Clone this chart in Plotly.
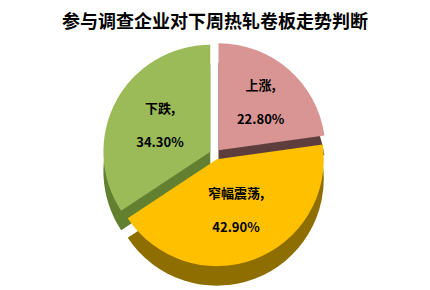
import plotly.graph_objects as go

labels = ["上涨", "窄幅震荡", "下跌"]
values = [22.8, 42.9, 34.3]
top_colors = ["#D99594", "#FFC000", "#9BBB59"]
side_colors = ["#5E3E3D", "#8F6E00", "#62802F"]
pulls = [0.05, 0.05, 0.05]

fig = go.Figure()

# depth layer (simulated 3D edge)
fig.add_trace(go.Pie(
    labels=labels, values=values, sort=False, direction="clockwise", rotation=0,
    marker=dict(colors=side_colors, line=dict(width=0)),
    pull=pulls, textinfo="none", hoverinfo="skip", showlegend=False,
    domain=dict(x=[0.0, 1.0], y=[0.0, 0.92]),
))

# top face
fig.add_trace(go.Pie(
    labels=labels, values=values, sort=False, direction="clockwise", rotation=0,
    marker=dict(colors=top_colors, line=dict(width=0)),
    pull=pulls, textposition="inside", insidetextorientation="horizontal",
    texttemplate="<b>%{label},</b><br><br><b>%{value:.2f}%</b>",
    textfont=dict(family="Noto Sans CJK SC", size=13, color="#000000"),
    showlegend=False,
    domain=dict(x=[0.0, 1.0], y=[0.08, 1.0]),
))

fig.update_layout(
    width=430, height=290,
    margin=dict(l=0, r=0, t=42, b=4),
    paper_bgcolor="white", plot_bgcolor="white",
    title=dict(text="<b>参与调查企业对下周热轧卷板走势判断</b>", x=0.5, y=0.925,
               xanchor="center", yanchor="middle",
               font=dict(family="Noto Sans CJK SC", size=18, color="#000000")),
    uniformtext=dict(minsize=10, mode="show"),
)

fig.write_html("out.html")
